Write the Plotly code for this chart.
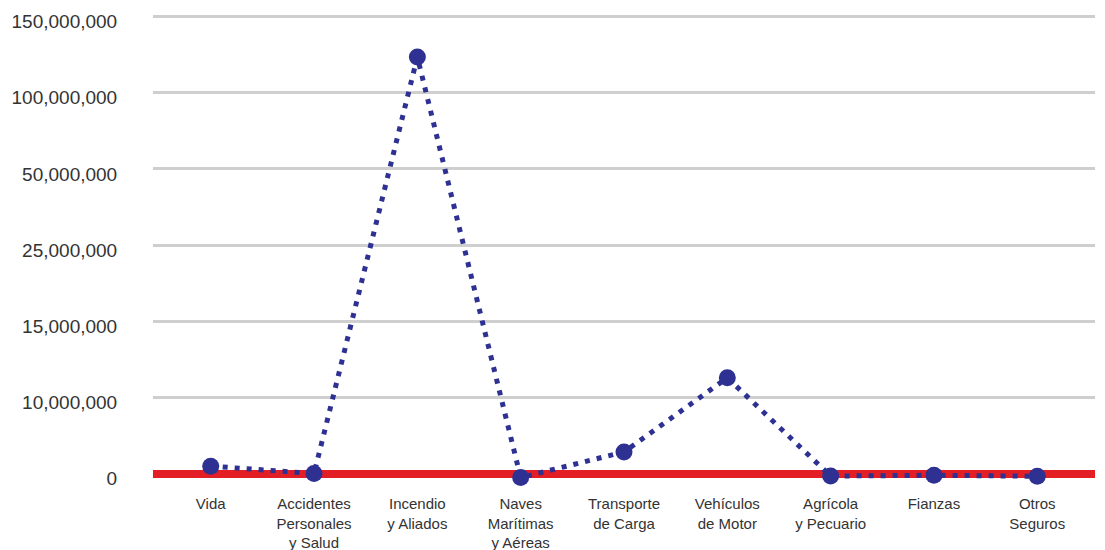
import numpy as np
import plotly.graph_objects as go

categories = ["Vida", "Accidentes<br>Personales<br>y Salud", "Incendio<br>y Aliados",
              "Naves<br>Marítimas<br>y Aéreas", "Transporte<br>de Carga", "Vehículos<br>de Motor",
              "Agrícola<br>y Pecuario", "Fianzas", "Otros<br>Seguros"]
values = [1000000, 20000, 123400000, -500000, 2860000, 11300000, -300000, -200000, -330000]

tick_values = [0, 10000000, 15000000, 25000000, 50000000, 100000000, 150000000]
tick_labels = ["0", "10,000,000", "15,000,000", "25,000,000", "50,000,000", "100,000,000", "150,000,000"]

# Non-linear (piecewise) axis scale: tick values evenly spaced
tick_pos = np.arange(len(tick_values), dtype=float)

def scale(v):
    v = np.asarray(v, dtype=float)
    out = np.interp(v, tick_values, tick_pos)
    slope0 = (tick_pos[1] - tick_pos[0]) / (tick_values[1] - tick_values[0])
    return np.where(v < 0, v * slope0, out)

y_scaled = scale(values)

fig = go.Figure()
fig.add_trace(go.Scatter(
    x=categories, y=y_scaled, mode="lines+markers",
    line=dict(color="#2E3192", width=5, dash="5px,7px"),
    marker=dict(color="#2E3192", size=17),
    customdata=values, hovertemplate="%{customdata:,}<extra></extra>",
    showlegend=False,
))

# page body has an 8px default margin; compensate in figure size/margins
fig.update_layout(
    width=1097, height=542,
    margin=dict(l=145, r=10, t=6.5, b=61),
    paper_bgcolor="white", plot_bgcolor="white",
    font=dict(family="Liberation Sans, Arial, sans-serif", color="#333333"),
)
fig.update_xaxes(
    automargin=False,
    showgrid=False, showline=False, ticks="outside", ticklen=1, tickcolor="rgba(0,0,0,0)",
    tickfont=dict(size=15), tickangle=0, ticklabeloverflow="allow",
)
fig.update_yaxes(
    automargin=False,
    range=[-0.2, 6.02], tickvals=tick_pos, ticktext=tick_labels,
    showgrid=True, gridcolor="#cfcfcf", gridwidth=3,
    zeroline=True, zerolinecolor="#E31E24", zerolinewidth=8,
    showline=False, ticks="outside", ticklen=31, tickcolor="rgba(0,0,0,0)",
    tickfont=dict(size=19), ticklabeloverflow="allow", ticklabelshift=5,
)

fig.write_html("out.html")
